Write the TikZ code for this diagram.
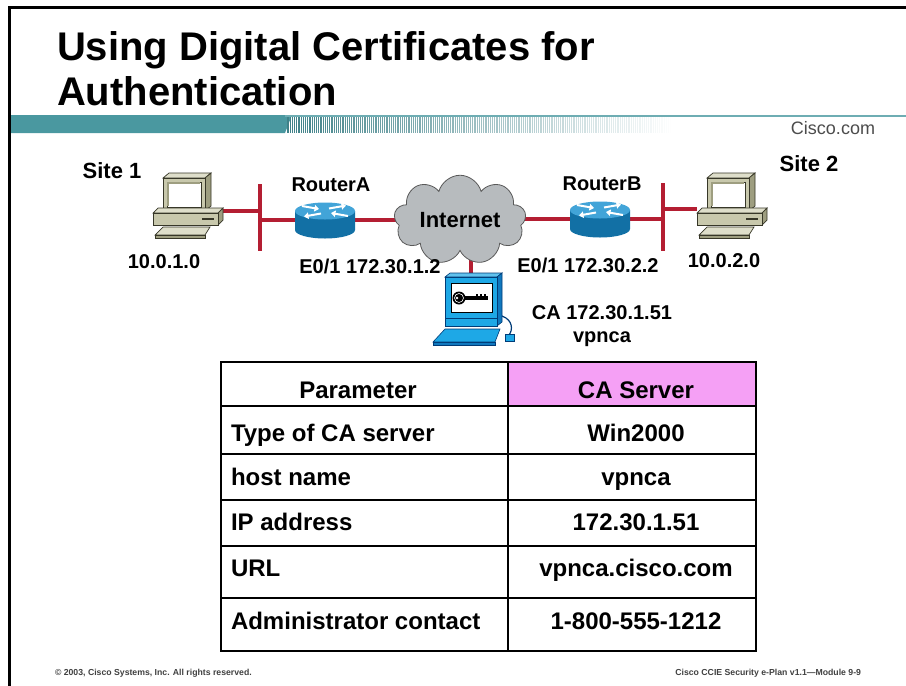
\documentclass[tikz,border=0pt]{standalone}
\usepackage{fontspec}
\setmainfont{Liberation Sans}
\usetikzlibrary{shapes.symbols,arrows.meta}
\pgfdeclarelayer{background}
\pgfsetlayers{background,main}

\definecolor{linkred}{RGB}{180,30,50}
\definecolor{bandteal}{RGB}{74,152,160}
\definecolor{pcface}{RGB}{200,200,172}
\definecolor{pctop}{RGB}{222,222,202}
\definecolor{pcside}{RGB}{158,158,128}
\definecolor{pcline}{RGB}{55,55,40}
\definecolor{rtop}{RGB}{66,164,216}
\definecolor{rside}{RGB}{18,112,165}
\definecolor{cloudgray}{RGB}{183,187,190}
\definecolor{cafill}{RGB}{30,168,230}
\definecolor{caside}{RGB}{16,120,190}
\definecolor{caline}{RGB}{0,60,120}
\definecolor{hdrpink}{RGB}{245,160,245}

\tikzset{
  every node/.style={inner sep=0pt, outer sep=0pt},
  titletext/.style={font=\bfseries\fontsize{40}{40}\selectfont, anchor=base west},
  lbl/.style={font=\bfseries\fontsize{20}{20}\selectfont, anchor=base},
  sitelbl/.style={font=\bfseries\fontsize{22}{22}\selectfont, anchor=base},
  tbl/.style={font=\bfseries\fontsize{24}{24}\selectfont, anchor=base},
  foot/.style={font=\bfseries\fontsize{8.7}{9}\selectfont, text=black!75, anchor=base},
  link/.style={draw=linkred, line width=4pt},
  gridline/.style={draw=black, line width=1.3pt},
  cloudnode/.style={cloud, cloud puffs=9, aspect=1.8, minimum width=132pt,
    minimum height=78pt, fill=cloudgray, draw=black!65, line width=0.8pt,
    font=\bfseries\fontsize{22}{22}\selectfont},
  rarrow/.style={white, line width=2pt, -{Triangle[length=4.5pt,width=6.5pt]}},
  pc/.pic={
    \begin{scope}[draw=pcline, line width=0.7pt]
      % monitor
      \draw[fill=pctop] (-25,-27) -- (17,-27) -- (23,-32) -- (-19,-32) -- cycle;
      \draw[fill=pcside] (17,-27) -- (23,-32) -- (23,1) -- (17,6) -- cycle;
      \draw[fill=pcface] (-25,-27) rectangle (17,6);
      \draw[fill=white] (-21,-23) rectangle (13,2);
      \draw[draw=pcside, line width=1.4pt] (-20,1) -- (-20,-22) -- (12,-22);
      % system unit
      \draw[fill=pctop] (-35,8) -- (30,8) -- (35,3) -- (-30,3) -- cycle;
      \draw[fill=pcside] (30,8) -- (35,3) -- (35,15) -- (30,20) -- cycle;
      \draw[fill=pcface] (-35,8) rectangle (30,20);
      \draw[line width=1.2pt] (14,14) -- (26,14);
      % keyboard
      \draw[fill=pctop] (-33,30) -- (17,30) -- (22,22) -- (-25,22) -- cycle;
      \draw[fill=pcside] (-33,30) rectangle (17,33);
    \end{scope}
    \coordinate (-e) at (35,6);
    \coordinate (-w) at (-35,4);
  },
  router/.pic={
    \fill[rside] (-30,-9) -- (-30,10)
      arc[start angle=180, end angle=360, x radius=30pt, y radius=8.5pt]
      -- (30,-9) -- cycle;
    \fill[rtop] (0,-9) ellipse[x radius=30pt, y radius=8.5pt];
    \draw[rarrow] (-23,-14) -- (-6,-11);
    \draw[rarrow] (23,-4) -- (6,-7);
    \draw[rarrow] (4,-11.5) -- (21,-14.5);
    \draw[rarrow] (-4,-6.5) -- (-21,-3.5);
    \coordinate (-w) at (-30,0);
    \coordinate (-e) at (30,0);
  },
  caserver/.pic={
    \begin{scope}[draw=caline, line width=0.6pt]
      % keyboard
      \draw[fill=cafill] (-40,34) -- (22,34) -- (27,21) -- (-28,21) -- cycle;
      \draw[fill=caside] (-40,34) rectangle (22,37);
      % mouse cable and plug
      \draw[line width=1.2pt] (29,8) .. controls (40,12) and (40,22) .. (36,27);
      \draw[fill=cafill] (32,26) rectangle (41,33);
      % monitor
      \draw[fill=cafill!70!white] (-28,-31) -- (24,-31) -- (29,-35) -- (-23,-35) -- cycle;
      \draw[fill=caside] (24,-31) -- (29,-35) -- (29,14) -- (24,18) -- cycle;
      \draw[fill=cafill] (-28,-31) rectangle (24,18);
      \draw (-28,10) -- (24,10);
      \draw[draw=black, line width=0.9pt, fill=white] (-22,-25) rectangle (19,4);
    \end{scope}
    % key on the screen
    \fill[black] (-14,-10) circle[radius=6.5pt];
    \draw[white, line width=0.6pt] (-14,-10) circle[radius=4.5pt];
    \fill[white] (-16,-10) circle[radius=1.3pt];
    \fill[black] (-9,-12) rectangle (15,-8);
    \fill[black] (3,-12) rectangle (5,-14.5);
    \fill[black] (7,-12) rectangle (9,-14.5);
    \fill[black] (11,-12) rectangle (13,-14.5);
    \coordinate (-top) at (-2,-35);
  }
}

\begin{document}
\begin{tikzpicture}[x=1pt,y=-1pt]
  \useasboundingbox (0,0) rectangle (906,686);
  \begin{pgfonlayer}{background}
    \fill[white] (0,0) rectangle (906,686);
  \end{pgfonlayer}

  % slide frame
  \draw[line width=3pt] (8,7.5) -- (906,7.5);
  \draw[line width=2.5pt] (9.5,6) -- (9.5,686);

  % title
  \node[titletext] (title1) at (57,60) {Using Digital Certificates for};
  \node[titletext] (title2) at (57,105) {Authentication};

  % header band with fading stripes
  \fill[bandteal] (11,115) -- (292,115) -- (285,133) -- (11,133) -- cycle;
  \draw[bandteal!80, line width=1.6pt] (285,116) -- (906,116);
  \foreach \i in {0,...,190} {
    \pgfmathsetmacro\xx{288+2.2*\i}
    \pgfmathsetmacro\op{max(0,1-\i/175)}
    \draw[bandteal!85!black, opacity=\op, line width=1.1pt] (\xx,117) -- (\xx,133);
  }
  \node[font=\fontsize{18}{18}\selectfont, text=black!70, anchor=base] (cisco) at (833,134) {Cisco.com};

  % devices
  \pic (pc1) at (188,205) {pc};
  \pic (pc2) at (732,205) {pc};
  \pic (ra) at (325,220) {router};
  \pic (rb) at (600,219) {router};
  \node[cloudnode] (inet) at (460,220) {Internet};
  \pic (ca) at (473,308) {caserver};

  % LAN segments
  \coordinate (b1t) at (260,184);
  \coordinate (b1b) at (260,251);
  \coordinate (b2t) at (663,183);
  \coordinate (b2b) at (663,251);

  \begin{pgfonlayer}{background}
    \draw[link] (b1t) -- (b1b);
    \draw[link] (b2t) -- (b2b);
    \draw[link] (pc1-e) -- (pc1-e -| b1t);
    \draw[link] (b1t |- ra-w) -- (ra-w);
    \draw[link] (ra-e) -- (inet.center);
    \draw[link] (inet.center |- rb-w) -- (rb-w);
    \draw[link] (rb-e) -- (rb-e -| b2t);
    \draw[link] (b2t |- pc2-w) -- (pc2-w);
    \draw[link] (ca-top) -- (ca-top |- inet.center);
  \end{pgfonlayer}

  % labels
  \node[sitelbl] (site1) at (112,178) {Site 1};
  \node[sitelbl] (site2) at (809,171) {Site 2};
  \node[lbl] (lra) at (331,191) {RouterA};
  \node[lbl] (lrb) at (602,190) {RouterB};
  \node[lbl] (net1) at (164,268) {10.0.1.0};
  \node[lbl] (net2) at (724,267) {10.0.2.0};
  \node[lbl] (ifa) at (370,273) {E0/1 172.30.1.2};
  \node[lbl] (ifb) at (588,272) {E0/1 172.30.2.2};
  \node[lbl] (caip) at (602,319) {CA 172.30.1.51};
  \node[lbl] (caname) at (602,342) {vpnca};

  % parameter table
  \fill[hdrpink] (508,362) rectangle (756,406);
  \foreach \yy in {406,454,500,546,598}
    \draw[gridline] (221,\yy) -- (756,\yy);
  \draw[gridline] (508,362) -- (508,651);
  \draw[line width=1.6pt] (221,362) rectangle (756,651);

  \node[tbl] (hp) at (358,398) {Parameter};
  \node[tbl] (hv) at (636,398) {CA Server};
  \node[tbl, anchor=base west] (p1) at (231,441) {Type of CA server};
  \node[tbl] (v1) at (636,441) {Win2000};
  \node[tbl, anchor=base west] (p2) at (231,485) {host name};
  \node[tbl] (v2) at (636,485) {vpnca};
  \node[tbl, anchor=base west] (p3) at (231,530) {IP address};
  \node[tbl] (v3) at (636,530) {172.30.1.51};
  \node[tbl, anchor=base west] (p4) at (231,576) {URL};
  \node[tbl] (v4) at (636,576) {vpnca.cisco.com};
  \node[tbl, anchor=base west] (p5) at (231,629) {Administrator contact};
  \node[tbl] (v5) at (636,629) {1-800-555-1212};

  % footer
  \node[foot, anchor=base west] (copy) at (55,675) {© 2003, Cisco Systems, Inc. All rights reserved.};
  \node[foot, anchor=base east] (course) at (861,675) {Cisco CCIE Security e-Plan v1.1—Module 9-9};
\end{tikzpicture}
\end{document}
